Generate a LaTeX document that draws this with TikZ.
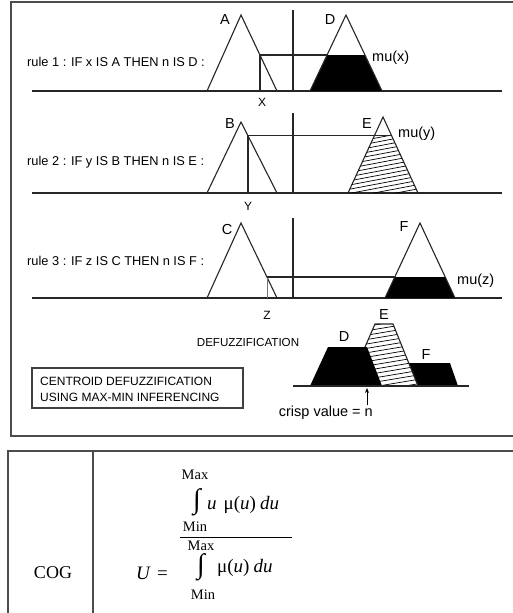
\documentclass[tikz,border=0pt]{standalone}
\usepackage{fontspec}
\setmainfont{Liberation Sans}
\newfontfamily\serifx{Liberation Serif}
\usetikzlibrary{arrows.meta}
\begin{document}
\begin{tikzpicture}[x=1pt,y=-1pt,
  ln/.style={line width=1.1pt, black!85},
  thinln/.style={line width=0.9pt, black!55},
  frame/.style={line width=1.5pt, black!70},
  boxframe/.style={line width=1.1pt, black!75},
  hatch/.style={line width=0.7pt, black},
  lbl/.style={inner sep=0pt, font=\fontsize{14.5}{16}\selectfont},
  small/.style={inner sep=0pt, font=\fontsize{12}{14}\selectfont},
  ruletxt/.style={inner sep=0pt, anchor=west, font=\fontsize{12.8}{15}\selectfont},
  ser/.style={inner sep=0pt, font=\serifx\fontsize{19}{22}\selectfont},
  lim/.style={inner sep=0pt, font=\serifx\fontsize{14.5}{16}\selectfont},
  intg/.style={inner sep=0pt, font=\serifx\fontsize{28}{30}\selectfont}]
\clip (0,0) rectangle (513,613);
\fill[white] (0,0) rectangle (513,613);
% outer frame
\draw[frame] (11,2) rectangle (530,436);

% ---------- rule 1 ----------
\node[ruletxt] (r1) at (27,62) {rule 1 : IF x IS A THEN n IS D :};
\draw[ln] (32,91) -- (502,91);
\draw[ln] (207,91) -- (241,15) -- (277,91);
\draw[ln] (293,10) -- (293,91);
\fill[black] (310,91) -- (327.4,55) -- (364.6,55) -- (382,91) -- cycle;
\draw[ln] (310,91) -- (346,15) -- (382,91);
\draw[ln] (260,91) -- (260,55) -- (327.4,55);
\node[lbl] (lA) at (225,20) {A};
\node[lbl] (lD) at (330,20) {D};
\node[lbl, anchor=west] (mux) at (372,58) {mu(x)};
\node[small] (lX) at (262,102) {X};

% ---------- rule 2 ----------
\node[ruletxt] (r2) at (27,162) {rule 2 : IF y IS B THEN n IS E :};
\draw[ln] (32,193) -- (502,193);
\draw[ln] (207,193) -- (241,122) -- (277,193);
\draw[ln] (293,113) -- (293,193);
\begin{scope}
  \clip (348,193) -- (374.3,135.8) -- (391.7,135.8) -- (418,193) -- cycle;
  \foreach \k in {0,...,22} \draw[hatch] (340,128+4.2*\k) -- (430,128+4.2*\k-17);
\end{scope}
\draw[ln] (348,193) -- (383,117) -- (418,193);
\draw[ln] (248,193) -- (248,135.8) -- (391.7,135.8);
\node[lbl] (lB) at (230,124) {B};
\node[lbl] (lE) at (367,124) {E};
\node[lbl, anchor=west] (muy) at (398,134) {mu(y)};
\node[small] (lY) at (248,206) {Y};

% ---------- rule 3 ----------
\node[ruletxt] (r3) at (27,261) {rule 3 : IF z IS C THEN n IS F :};
\draw[ln] (32,298) -- (502,298);
\draw[ln] (207,298) -- (241,223) -- (277,298);
\draw[ln] (293,218) -- (293,298);
\fill[black] (385,298) -- (394.8,277) -- (445.2,277) -- (455,298) -- cycle;
\draw[ln] (385,298) -- (420,223) -- (455,298);
\draw[thinln] (267,298) -- (267,277);
\draw[ln] (267,277) -- (394.8,277);
\node[lbl] (lC) at (227,230) {C};
\node[lbl] (lF) at (404,227) {F};
\node[lbl, anchor=west] (muz) at (457,281) {mu(z)};
\node[small] (lZ) at (267,315) {Z};

% ---------- defuzzification ----------
\node[inner sep=0pt, font=\fontsize{11.6}{14}\selectfont] (defz) at (248,343) {DEFUZZIFICATION};
\fill[black] (386,386) -- (399,363) -- (450,363) -- (458,386) -- cycle;
\fill[white] (348,386) -- (375,324) -- (393,324) -- (418,386) -- cycle;
\begin{scope}
  \clip (348,386) -- (375,324) -- (393,324) -- (418,386) -- cycle;
  \foreach \k in {0,...,20} \draw[hatch] (340,322+4.4*\k) -- (430,322+4.4*\k-15);
\end{scope}
\draw[ln] (348,386) -- (375,324) -- (393,324) -- (418,386);
\fill[black] (310,386) -- (328,347) -- (367,347) -- (382,386) -- cycle;
\draw[ln] (293,386) -- (469,386);
\node[lbl] (dD) at (344,337) {D};
\node[lbl] (dE) at (384,315) {E};
\node[lbl] (dF) at (426,355) {F};
\node[inner sep=0pt, anchor=east, font=\fontsize{14.5}{16}\selectfont] (crisp) at (373,413) {crisp value = n};
\coordinate (arrS) at (367,405);
\coordinate (arrT) at (367,388);
\draw[line width=0.9pt, -{Stealth[length=5pt,width=4pt]}] (arrS) -- (arrT);

% centroid box
\draw[boxframe] (32,368) rectangle (243,408);
\node[small, anchor=west] (c1) at (40,381) {CENTROID DEFUZZIFICATION};
\node[small, anchor=west] (c2) at (40,397) {USING MAX-MIN INFERENCING};

% ---------- table ----------
\draw[frame] (8,620) -- (8,451) -- (530,451);
\draw[frame] (93,451) -- (93,620);
\node[inner sep=0pt, font=\serifx\fontsize{18}{20}\selectfont] (cog) at (53,573) {COG};
\node[ser] (ueq) at (152,573) {\textit{U}\,\,=};
\draw[line width=1pt] (180,537) -- (292,537);
\node[lim] (max1) at (195,475) {Max};
\node[intg] (int1) at (197,502) {∫};
\node[ser, anchor=west] (num) at (207,505) {\textit{u}\hspace{7pt}μ(\textit{u})\hspace{4pt}\textit{du}};
\node[lim] (min1) at (195,527) {Min};
\node[lim] (max2) at (201,546) {Max};
\node[intg] (int2) at (201,567) {∫};
\node[ser, anchor=west] (den) at (217,568) {μ(\textit{u})\hspace{4pt}\textit{du}};
\node[lim] (min2) at (203,595) {Min};
\end{tikzpicture}
\end{document}
